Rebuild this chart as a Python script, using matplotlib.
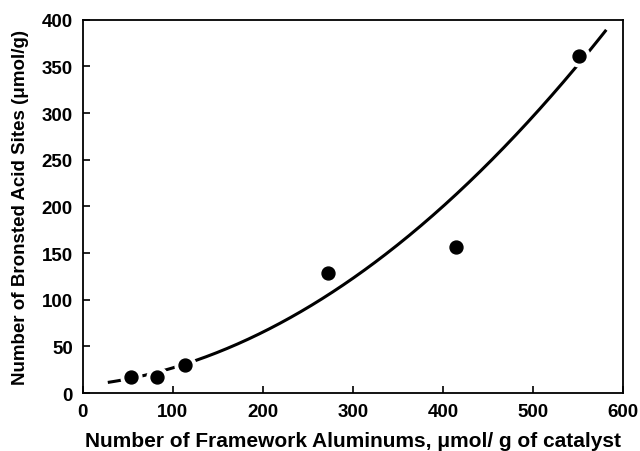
import numpy as np
import matplotlib
matplotlib.use("Agg")
import matplotlib.pyplot as plt

plt.rcParams['font.family'] = ['Liberation Sans', 'DejaVu Sans']
plt.rcParams['font.weight'] = 'bold'

# datos medidos
framework_al = [53.6, 83, 113.6, 272.6, 414, 551]
bronsted = [17, 17, 30, 129, 157, 361]

# coeficientes de la curva de ajuste (a + b*x + c*x^2)
fit_coef = [8.16, 0.0920, 0.0009704]
fit_range = [28, 580]

def curva(x):
    return fit_coef[0] + fit_coef[1] * x + fit_coef[2] * x ** 2

fig = plt.figure(figsize=(6.4, 4.52), dpi=100)
ax = fig.add_axes([0.129, 0.128, 0.845, 0.826])

x_low = np.linspace(fit_range[0], framework_al[2], 100)
x_mid = np.linspace(framework_al[2], framework_al[-1], 300)
x_high = np.linspace(framework_al[-1], fit_range[1], 50)

ax.plot(x_low, curva(x_low), color='black', lw=2.2, dashes=(6, 2.5),
        solid_capstyle='butt', zorder=2)
ax.plot(x_mid, curva(x_mid), color='black', lw=2.2, zorder=2)
ax.plot(x_high, curva(x_high), color='black', lw=2.2, zorder=2)

# halo blanco alrededor de los puntos
ax.plot(framework_al, bronsted, 'o', color='white', ms=15, zorder=3)
ax.plot(framework_al, bronsted, 'o', color='black', ms=9.3, zorder=4)

ax.set_xlim(0, 600)
ax.set_ylim(0, 400)
ax.set_xticks(range(0, 601, 100))
ax.set_yticks(range(0, 401, 50))
ax.tick_params(direction='in', length=5, width=1.2, labelsize=13.5, pad=7)
for s in ax.spines.values():
    s.set_linewidth(1.3)

ax.set_xlabel('Number of Framework Aluminums, \u03bcmol/ g of catalyst',
              fontsize=15, fontweight='bold', labelpad=8)
ax.set_ylabel('Number of Bronsted Acid Sites (\u03bcmol/g)',
              fontsize=13.5, fontweight='bold', labelpad=9)

fig.savefig('out.png', dpi=100)
